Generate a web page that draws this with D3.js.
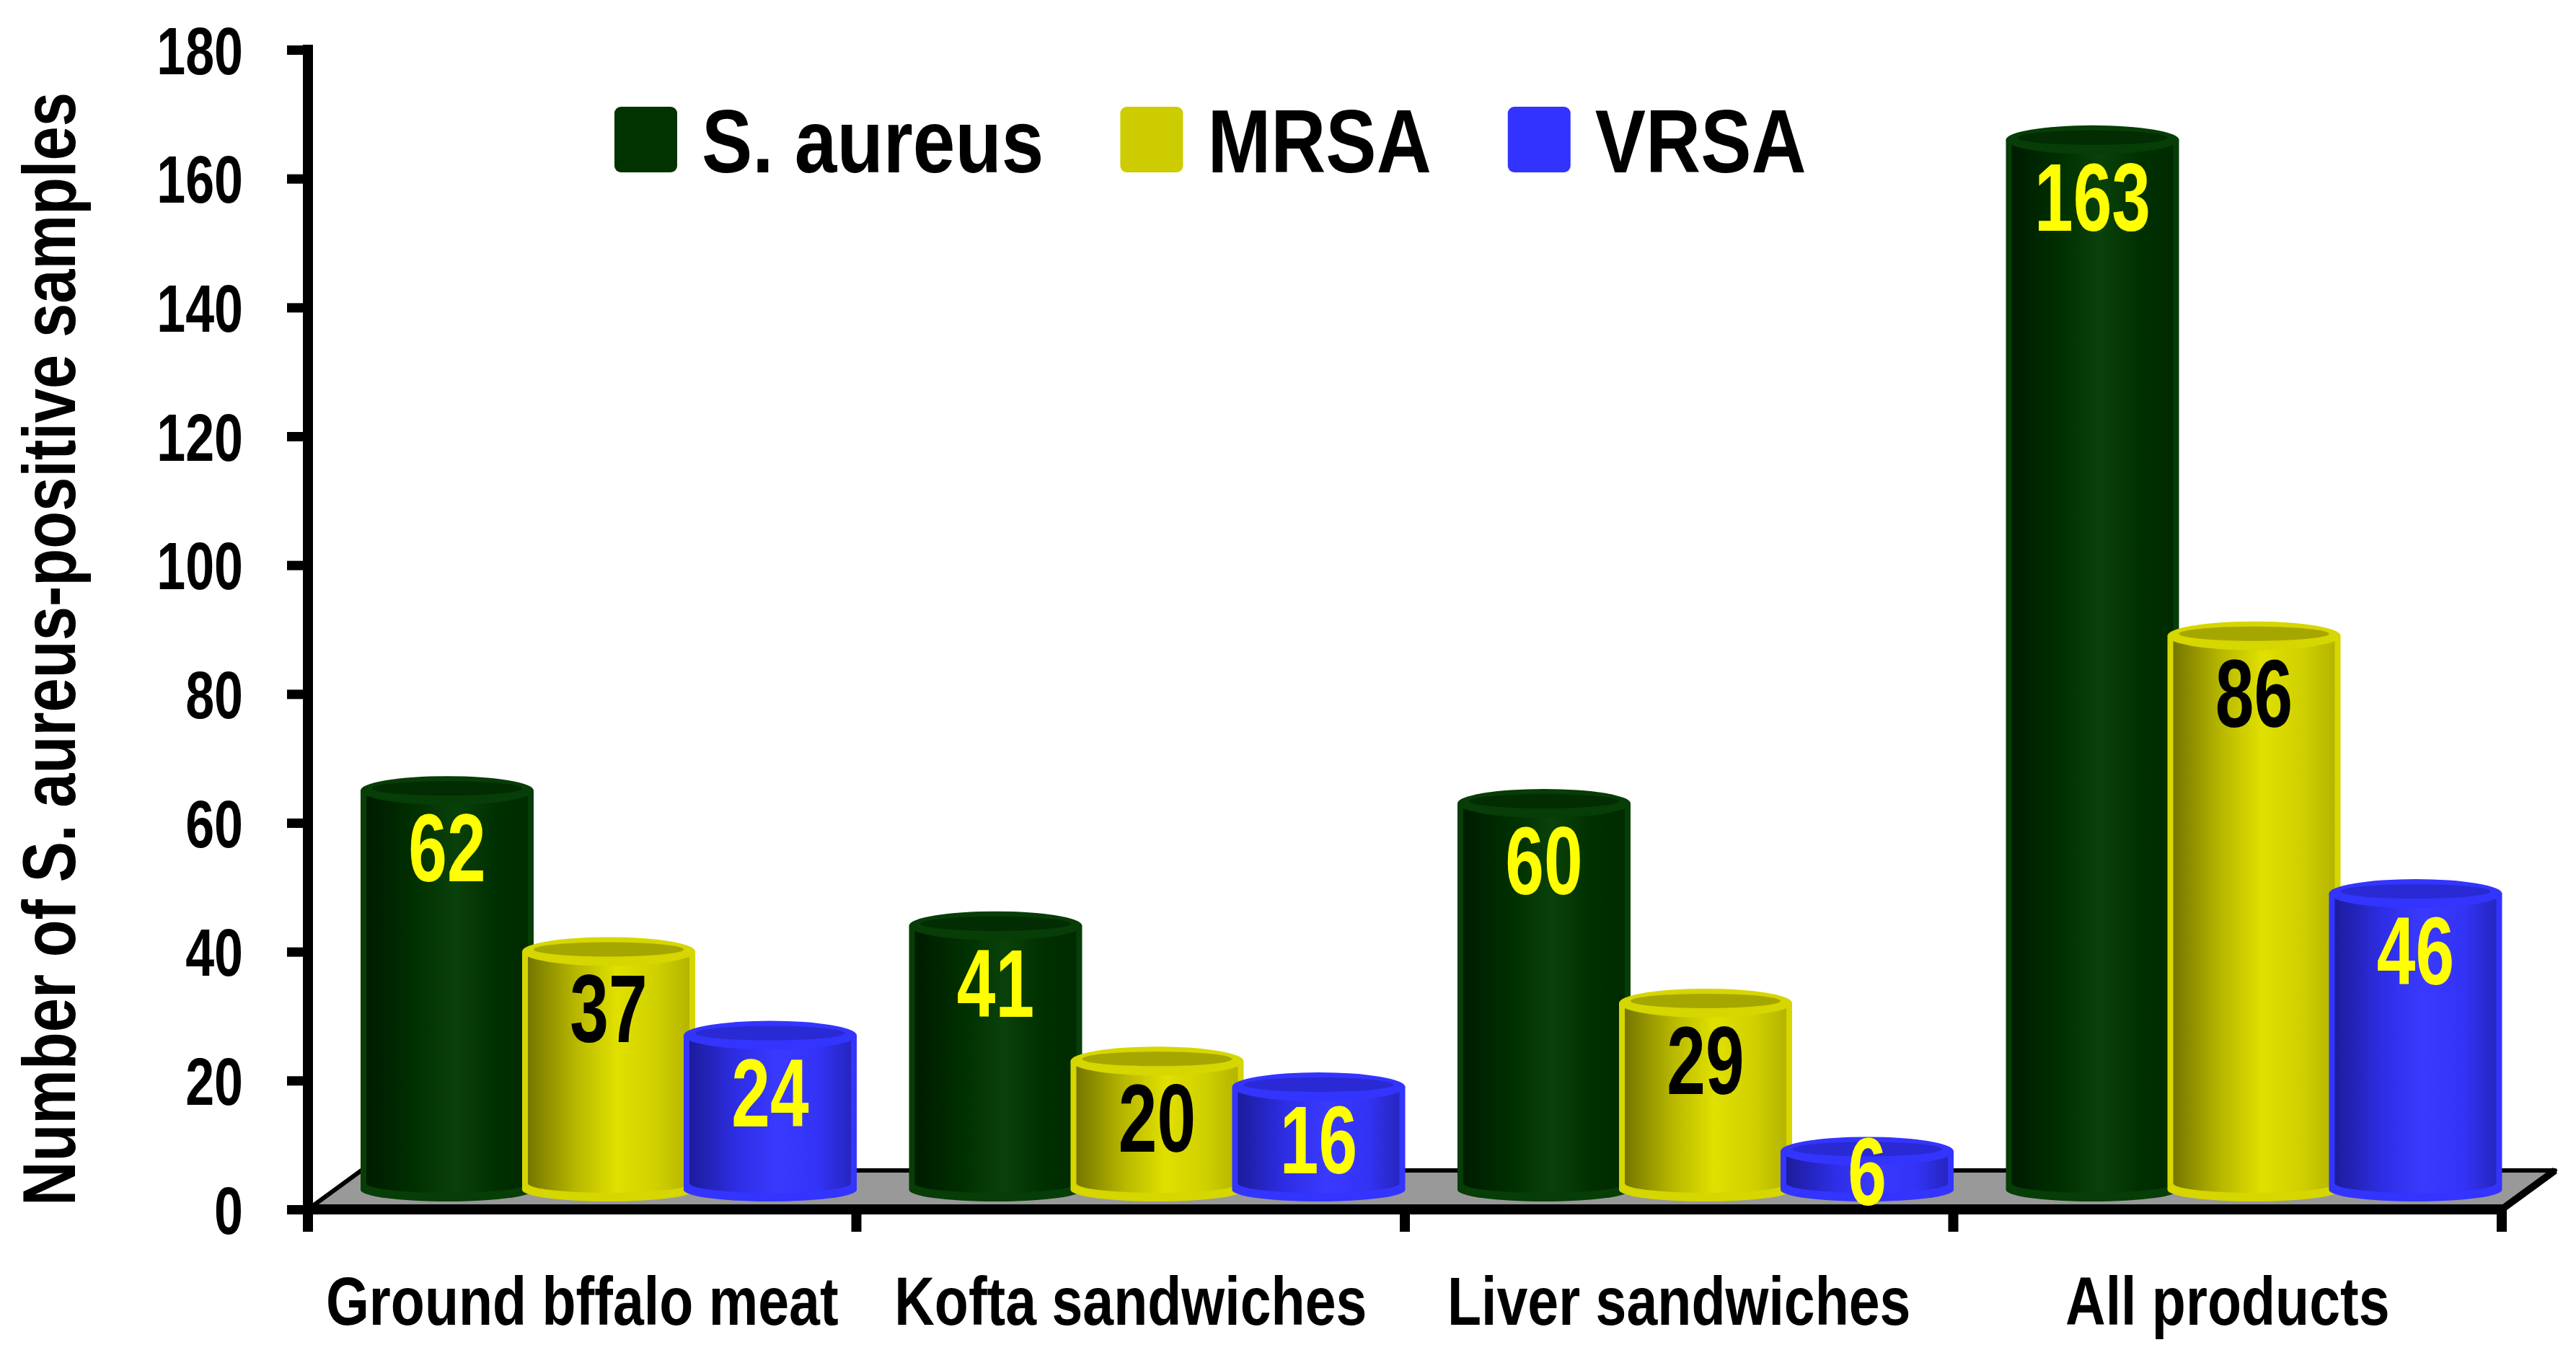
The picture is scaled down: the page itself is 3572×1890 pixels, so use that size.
<!DOCTYPE html>
<html>
<head>
<meta charset="utf-8">
<script src="https://cdn.jsdelivr.net/npm/d3@7"></script>
<style>
  body { margin: 0; background: #fff; }
  text { font-family: "Liberation Sans", Arial, sans-serif; font-weight: bold; }
</style>
</head>
<body>
<script>
// data
var categories = ["Ground bffalo meat", "Kofta sandwiches", "Liver sandwiches", "All products"];
var seriesNames = ["S. aureus", "MRSA", "VRSA"];
var sAureus = [62, 41, 60, 163];
var mrsa = [37, 20, 29, 86];
var vrsa = [24, 16, 6, 46];
var yTicks = [0, 20, 40, 60, 80, 100, 120, 140, 160, 180];
var yTitle = "Number of S. aureus-positive samples";

var W = 3572, H = 1890,
    depthX = 74, depthY = 54; // floor depth

// colours per series: legend, rim, inner top, gradient stops, label
var look = [
  {key: "green", legend: "#003300", rim: "#073d07", inner: "#022c02", label: "#ffff00",
   stops: ["#001c00", "#003000", "#0a410a", "#003000", "#002a00"]},
  {key: "yellow", legend: "#cccc00", rim: "#d6d600", inner: "#a6a600", label: "#000000",
   stops: ["#767600", "#b8b800", "#e0e000", "#d0d000", "#b4b400"]},
  {key: "blue", legend: "#3333ff", rim: "#3434ff", inner: "#2a2ad4", label: "#ffff00",
   stops: ["#1c1c9c", "#2e2ee6", "#3a3aff", "#3333f6", "#2626c0"]}
];

// the original uses a condensed face: squeeze Liberation Sans horizontally
function narrow(sel, x, y, k){
  sel.attr("transform", "translate(" + x + "," + y + ") scale(" + k + ",1)");
}

var svg = d3.select("body").append("svg")
    .attr("width", W)
    .attr("height", H)
    .attr("viewBox", "0 0 " + W + " " + H);

svg.append("rect").attr("width", W).attr("height", H).attr("fill", "#fff");

var defs = svg.append("defs");
look.forEach(function(c){
  var gr = defs.append("linearGradient").attr("id", "grad-" + c.key)
      .attr("x1", 0).attr("x2", 1).attr("y1", 0).attr("y2", 0);
  [0, 0.3, 0.55, 0.8, 1].forEach(function(o, i){
    gr.append("stop").attr("offset", o).attr("stop-color", c.stops[i]);
  });
});

var y = d3.scaleLinear().domain([0, 180]).range([1677, 69]);
var x = d3.scaleBand().domain(categories).range([427, 3469]);
var xs = d3.scaleBand().domain(seriesNames).range([73, 73 + 3 * 224]);
var barW = xs.step() + 16;

var table = seriesNames.map(function(s, si){
  var vals = [sAureus, mrsa, vrsa][si];
  return categories.map(function(c, ci){ return {cat: c, series: s, si: si, value: vals[ci]}; });
});

// floor
var x0 = x.range()[0], x1 = x.range()[1], y0 = y(0);
svg.append("path")
    .attr("d", "M" + x0 + "," + y0 + "L" + (x0 + depthX) + "," + (y0 - depthY) +
               "L" + (x1 + depthX) + "," + (y0 - depthY) + "L" + x1 + "," + y0 + "Z")
    .attr("fill", "#999999")
    .attr("stroke", "#000")
    .attr("stroke-width", 6)
    .attr("stroke-linejoin", "round");
svg.append("path")
    .attr("d", "M" + (x1 + depthX) + "," + (y0 - depthY) + "L" + x1 + "," + y0)
    .attr("stroke", "#000").attr("stroke-width", 10);

// axes
var yAxis = svg.append("g")
    .attr("transform", "translate(" + x0 + ",0)")
    .call(d3.axisLeft(y).tickValues(yTicks).tickSize(29).tickSizeOuter(0).tickPadding(61));
yAxis.select(".domain").remove();
yAxis.selectAll(".tick line").attr("stroke", "#000").attr("stroke-width", 13);
yAxis.selectAll(".tick text")
    .attr("fill", "#000")
    .style("font-size", "92px")
    .attr("dy", "0.36em")
    .attr("x", null)
    .each(function(){ narrow(d3.select(this), -90, 0, 0.78); });
svg.append("line")
    .attr("x1", x0).attr("x2", x0)
    .attr("y1", y(180) - 7).attr("y2", y0 + 31)
    .attr("stroke", "#000").attr("stroke-width", 14);

svg.append("line")
    .attr("x1", x0 - 7).attr("x2", x1 + 7)
    .attr("y1", y0).attr("y2", y0)
    .attr("stroke", "#000").attr("stroke-width", 14);

var bounds = categories.map(function(c){ return x(c); }).concat([x1]);
svg.selectAll(".xtick").data(bounds).enter().append("line")
    .attr("class", "xtick")
    .attr("x1", function(d){ return d; }).attr("x2", function(d){ return d; })
    .attr("y1", y0).attr("y2", y0 + 31)
    .attr("stroke", "#000").attr("stroke-width", 14);

svg.selectAll(".xlabel").data(categories).enter().append("text")
    .attr("class", "xlabel")
    .attr("text-anchor", "middle")
    .style("font-size", "94px")
    .text(function(d){ return d; })
    .each(function(d){ narrow(d3.select(this), x(d) + x.bandwidth() / 2, 1837, 0.82); });

svg.append("text")
    .attr("transform", "translate(104,900) rotate(-90) scale(0.825,1)")
    .attr("text-anchor", "middle")
    .style("font-size", "103px")
    .text(yTitle);

// cylinders
function cylPath(bx, w, yt, yb, ry){
  var rx = w / 2;
  return "M" + bx + "," + yt + "L" + bx + "," + yb +
         "A" + rx + "," + ry + " 0 0 0 " + (bx + w) + "," + yb +
         "L" + (bx + w) + "," + yt + "Z";
}

var rim = 8, ryTop = 20, ryBot = 16, lift = depthY / 2;
var barsG = svg.append("g");
categories.forEach(function(c, ci){
  table.forEach(function(rows, si){
    var d = rows[ci], cl = look[si];
    var bx = x(c) + xs(d.series), yt = y(d.value) - lift, yb = y(0) - lift;
    var g = barsG.append("g");
    g.append("path").attr("d", cylPath(bx, barW, yt, yb, ryBot)).attr("fill", cl.rim);
    g.append("path").attr("d", cylPath(bx + rim, barW - 2 * rim, yt, yb - 9, ryBot - 3))
        .attr("fill", "url(#grad-" + cl.key + ")");
    g.append("ellipse").attr("cx", bx + barW / 2).attr("cy", yt)
        .attr("rx", barW / 2).attr("ry", ryTop).attr("fill", cl.rim);
    g.append("ellipse").attr("cx", bx + barW / 2).attr("cy", yt - 3)
        .attr("rx", barW / 2 - 16).attr("ry", ryTop * 0.5).attr("fill", cl.inner);
  });
});

// value labels
var all = d3.merge(table);
svg.selectAll(".val").data(all).enter().append("text")
    .attr("class", "val")
    .attr("text-anchor", "middle")
    .attr("fill", function(d){ return look[d.si].label; })
    .style("font-size", "134px")
    .text(function(d){ return d.value; })
    .each(function(d){
      var yt = y(d.value) - lift, yb = y(0) - lift;
      narrow(d3.select(this), x(d.cat) + xs(d.series) + barW / 2,
             Math.min(yt + 126, (yt + yb) / 2 + 48), 0.72);
    });

// legend
var lx = 852;
seriesNames.forEach(function(s, i){
  svg.append("rect").attr("x", lx).attr("y", 148).attr("width", 87).attr("height", 91)
      .attr("rx", 9).attr("fill", look[i].legend);
  var t = svg.append("text").style("font-size", "124px").text(s);
  narrow(t, lx + 121, 239, 0.85);
  lx = lx + 121 + t.node().getComputedTextLength() * 0.85 + 106;
});
</script>
</body>
</html>
